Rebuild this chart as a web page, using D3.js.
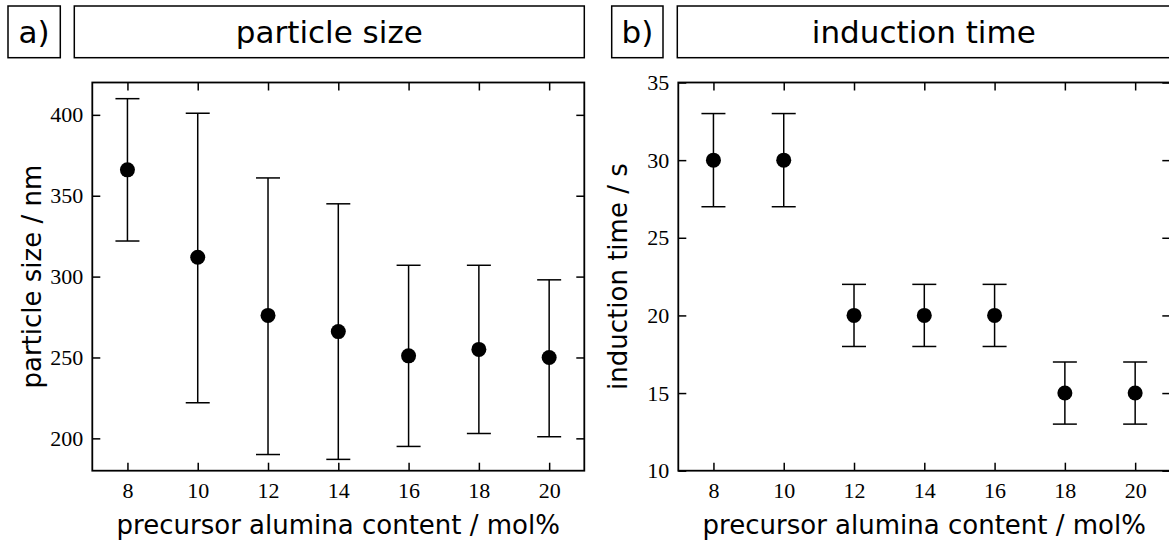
<!DOCTYPE html>
<html><head><meta charset="utf-8">
<script src="https://cdn.jsdelivr.net/npm/d3@7"></script>
<style>body{margin:0;background:#fff}svg{display:block}</style>
</head><body>
<svg id="c" width="1169" height="543"></svg>
<script>
const alumina = [8, 10, 12, 14, 16, 18, 20];
const sizeMean = [366, 312, 276, 266, 251, 255, 250];
const sizeUpper = [410, 401, 361, 345, 307, 307, 298];
const sizeLower = [322, 222, 190, 187, 195, 203, 201];
const timeMean = [30, 30, 20, 20, 20, 15, 15];
const timeUpper = [33, 33, 22, 22, 22, 17, 17];
const timeLower = [27, 27, 18, 18, 18, 13, 13];
const xTicks = [8, 10, 12, 14, 16, 18, 20];
const sizeTicks = [200, 250, 300, 350, 400];
const timeTicks = [10, 15, 20, 25, 30, 35];

const svg = d3.select("#c");
const sans = "'DejaVu Sans', sans-serif";
const serif = "'Liberation Serif', 'DejaVu Serif', serif";

function panel(o) {
  const g = svg.append("g");
  const x = d3.scaleLinear().domain([7, 21]).range([o.left, o.right]);
  const y = d3.scaleLinear().domain(o.ydom).range([o.bottom, o.top]);
  // label box
  g.append("rect").attr("x", o.lbox[0]).attr("y", 6).attr("width", o.lbox[1] - o.lbox[0]).attr("height", 51.7)
    .attr("fill", "none").attr("stroke", "#000").attr("stroke-width", 1.5);
  g.append("text").attr("x", (o.lbox[0] + o.lbox[1]) / 2).attr("y", 43).attr("text-anchor", "middle")
    .attr("font-family", sans).attr("font-size", 31).text(o.tag);
  g.append("rect").attr("x", o.tbox[0]).attr("y", 6).attr("width", o.tbox[1] - o.tbox[0]).attr("height", 51.7)
    .attr("fill", "none").attr("stroke", "#000").attr("stroke-width", 1.5);
  g.append("text").attr("x", (o.tbox[0] + o.tbox[1]) / 2).attr("y", 43).attr("text-anchor", "middle")
    .attr("font-family", sans).attr("font-size", 31).text(o.title);

  // axes with inward ticks
  const ax = (gen, tr) => {
    const a = g.append("g").attr("transform", tr).call(gen);
    a.select(".domain").remove();
    a.selectAll("line").attr("stroke", "#000").attr("stroke-width", 1.5);
    a.selectAll("text").attr("font-family", serif).attr("font-size", 22).attr("fill", "#000");
    return a;
  };
  ax(d3.axisBottom(x).tickValues(xTicks).tickSize(-8).tickSizeOuter(0).tickPadding(12).tickFormat(d3.format("d")),
     `translate(0,${o.bottom})`);
  ax(d3.axisTop(x).tickValues(xTicks).tickSize(-8).tickSizeOuter(0).tickFormat(""),
     `translate(0,${o.top})`);
  ax(d3.axisLeft(y).tickValues(o.yticks).tickSize(-8).tickSizeOuter(0).tickPadding(9).tickFormat(d3.format("d")),
     `translate(${o.left},0)`);
  ax(d3.axisRight(y).tickValues(o.yticks).tickSize(-8).tickSizeOuter(0).tickFormat(""),
     `translate(${o.right},0)`);
  g.append("rect").attr("x", o.left).attr("y", o.top).attr("width", o.right - o.left).attr("height", o.bottom - o.top)
    .attr("fill", "none").attr("stroke", "#000").attr("stroke-width", 1.8);

  // error bars
  const cap = 12;
  alumina.forEach((a, i) => {
    const cx = x(a);
    g.append("line").attr("x1", cx).attr("x2", cx).attr("y1", y(o.lo[i])).attr("y2", y(o.hi[i]))
      .attr("stroke", "#000").attr("stroke-width", 1.5);
    [o.lo[i], o.hi[i]].forEach(v => {
      g.append("line").attr("x1", cx - cap).attr("x2", cx + cap).attr("y1", y(v)).attr("y2", y(v))
        .attr("stroke", "#000").attr("stroke-width", 1.5);
    });
    g.append("circle").attr("cx", cx).attr("cy", y(o.mean[i])).attr("r", 7.5).attr("fill", "#000");
  });

  // axis titles
  g.append("text").attr("x", (o.left + o.right) / 2).attr("y", 533.5).attr("text-anchor", "middle")
    .attr("font-family", sans).attr("font-size", 26).text("precursor alumina content / mol%");
  g.append("text").attr("transform", `translate(${o.left - 51},${(o.top + o.bottom) / 2}) rotate(-90)`)
    .attr("text-anchor", "middle").attr("font-family", sans).attr("font-size", 26).text(o.ylabel);
}

panel({left: 92.3, right: 584.3, top: 82.5, bottom: 470.7, ydom: [180, 420], yticks: sizeTicks,
  mean: sizeMean, hi: sizeUpper, lo: sizeLower, tag: "a)", title: "particle size",
  lbox: [8, 60.3], tbox: [74.3, 584.3], ylabel: "particle size / nm"});
panel({left: 678.3, right: 1170.3, top: 82.5, bottom: 470.7, ydom: [10, 35], yticks: timeTicks,
  mean: timeMean, hi: timeUpper, lo: timeLower, tag: "b)", title: "induction time",
  lbox: [611.7, 663], tbox: [677.3, 1170.3], ylabel: "induction time / s"});
</script>
</body></html>
